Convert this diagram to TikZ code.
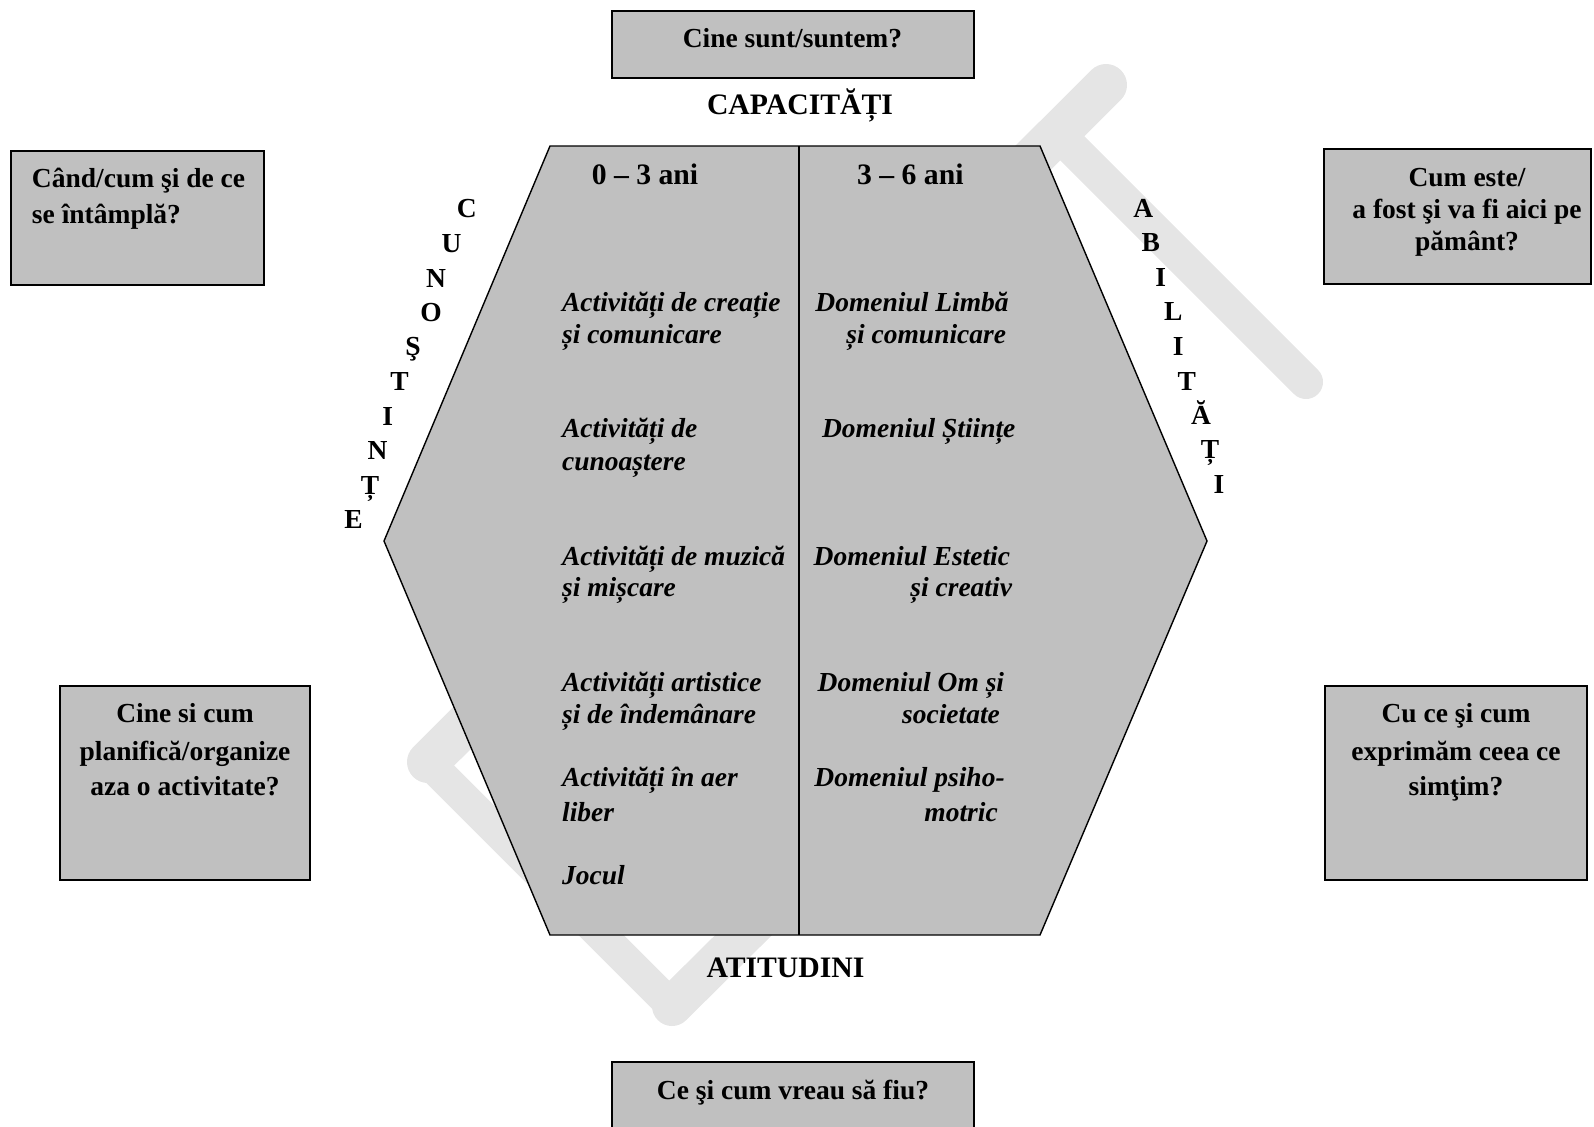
\documentclass[tikz,border=0pt]{standalone}
\usepackage{fontspec}
\setmainfont{Liberation Serif}
\definecolor{boxgray}{RGB}{192,192,192}
\definecolor{wmgray}{RGB}{229,229,229}
\tikzset{
  qbox/.style={draw=black, line width=1pt, fill=boxgray, inner sep=0pt},
  hexshape/.style={draw=black, line width=0.7pt, fill=boxgray},
  qtxt/.style={font=\bfseries\fontsize{13.75}{16}\selectfont, inner sep=0pt, anchor=base},
  qtxtl/.style={qtxt, anchor=base west},
  itm/.style={font=\bfseries\itshape\fontsize{13.75}{16}\selectfont, inner sep=0pt, anchor=base west},
  hd/.style={font=\bfseries\fontsize{14.85}{17}\selectfont, inner sep=0pt, anchor=base},
  ltr/.style={font=\bfseries\fontsize{13.75}{16}\selectfont, inner sep=0pt, anchor=base},
  wm/.style={draw=wmgray, line cap=round, line join=round},
}
\begin{document}
\begin{tikzpicture}[x=0.5pt,y=-0.5pt]
\useasboundingbox (0,0) rectangle (1594,1126);

% watermark
\coordinate (w1) at (1106,85);
\coordinate (w2) at (428,762);
\coordinate (w3) at (672,1006);
\coordinate (w4) at (780,899);
\coordinate (w5) at (1057,133);
\coordinate (w6) at (1306,382);
\draw[wm, line width=21pt] (w1) -- (w2);
\draw[wm, line width=16pt] (w2) -- (w3);
\draw[wm, line width=20pt] (w3) -- (w4);
\draw[wm, line width=17pt] (w5) -- (w6);

% hexagon
\coordinate (h1) at (550,146);
\coordinate (h2) at (1040,146);
\coordinate (h3) at (1207,541);
\coordinate (h4) at (1040,935);
\coordinate (h5) at (550,935);
\coordinate (h6) at (384,541);
\coordinate (dtop) at (799,146);
\coordinate (dbot) at (799,935);
\draw[hexshape] (h1) -- (h2) -- (h3) -- (h4) -- (h5) -- (h6) -- cycle;
\draw[line width=0.7pt] (dtop) -- (dbot);

% question boxes
\node[qbox, minimum width=181pt, minimum height=33.5pt] (qtop) at (793,44.5) {};
\node[qbox, minimum width=126.5pt, minimum height=67pt] (qtl) at (137.5,218) {};
\node[qbox, minimum width=133.5pt, minimum height=67.5pt] (qtr) at (1457.5,216) {};
\node[qbox, minimum width=125pt, minimum height=97pt] (qbl) at (185,783) {};
\node[qbox, minimum width=131pt, minimum height=97pt] (qbr) at (1456,783) {};
\node[qbox, minimum width=181pt, minimum height=39pt] (qbot) at (793,1101) {};

% question texts
\node[qtxt] (ttop) at (792.5,47.3) {Cine sunt/suntem?};
\node[qtxtl] (ttl1) at (31.6,187.5) {Când/cum şi de ce};
\node[qtxtl] (ttl2) at (31.6,223) {se întâmplă?};
\node[qtxt] (ttr1) at (1467,186) {Cum este/};
\node[qtxt] (ttr2) at (1467,218.5) {a fost şi va fi aici pe};
\node[qtxt] (ttr3) at (1467,250) {pământ?};
\node[qtxt] (tbl1) at (185,722.5) {Cine si cum};
\node[qtxt] (tbl2) at (185,760) {planifică/organize};
\node[qtxt] (tbl3) at (185,795) {aza o activitate?};
\node[qtxt] (tbr1) at (1456,722.5) {Cu ce şi cum};
\node[qtxt] (tbr2) at (1456,760) {exprimăm ceea ce};
\node[qtxt] (tbr3) at (1456,795) {simţim?};
\node[qtxt] (tbot) at (793,1099) {Ce şi cum vreau să fiu?};

% headings
\node[hd] (cap) at (800,114.3) {CAPACITĂȚI};
\node[hd] (atit) at (785.5,977) {ATITUDINI};
\node[hd] (age1) at (645,184) {0 – 3 ani};
\node[hd] (age2) at (910.3,184) {3 – 6 ani};

% left column
\node[itm] (l1a) at (561.7,311.7) {Activități de creație};
\node[itm] (l1b) at (561.7,343.3) {și comunicare};
\node[itm] (l2a) at (561.7,437.3) {Activități de};
\node[itm] (l2b) at (561.7,470) {cunoaștere};
\node[itm] (l3a) at (561.7,565) {Activități de muzică};
\node[itm] (l3b) at (561.7,596.7) {și mișcare};
\node[itm] (l4a) at (561.7,691.7) {Activități artistice};
\node[itm] (l4b) at (561.7,723.3) {și de îndemânare};
\node[itm] (l5a) at (561.7,786) {Activități în aer};
\node[itm] (l5b) at (561.7,821.7) {liber};
\node[itm] (l6) at (561.7,884) {Jocul};

% right column
\node[itm] (r1a) at (815,311.7) {Domeniul Limbă};
\node[itm] (r1b) at (846,343.3) {și comunicare};
\node[itm] (r2) at (821.7,437.3) {Domeniul Științe};
\node[itm] (r3a) at (813.3,565) {Domeniul Estetic};
\node[itm] (r3b) at (910,596.7) {și creativ};
\node[itm] (r4a) at (817.3,691.7) {Domeniul Om și};
\node[itm] (r4b) at (901.7,723.3) {societate};
\node[itm] (r5a) at (814,786) {Domeniul psiho-};
\node[itm] (r5b) at (924,821.7) {motric};

% CUNOSTINTE
\foreach \l/\x/\y [count=\i] in {C/466.8/217.9, U/451.5/252, N/436/287, O/431/321, Ş/413/355.5, T/399.5/390, I/387.8/425, N/377.6/459.5, Ț/370/494, E/353.6/528.6}
  \node[ltr] (cun\i) at (\x,\y) {\l};

% ABILITATI
\foreach \l/\x/\y [count=\i] in {A/1143.3/217.3, B/1150.7/251.7, I/1160.7/286.7, L/1173.3/320.7, I/1178.3/355, T/1186.7/390, Ă/1201/424.4, Ț/1210/458.8, I/1219/493.2}
  \node[ltr] (abi\i) at (\x,\y) {\l};
\end{tikzpicture}
\end{document}
